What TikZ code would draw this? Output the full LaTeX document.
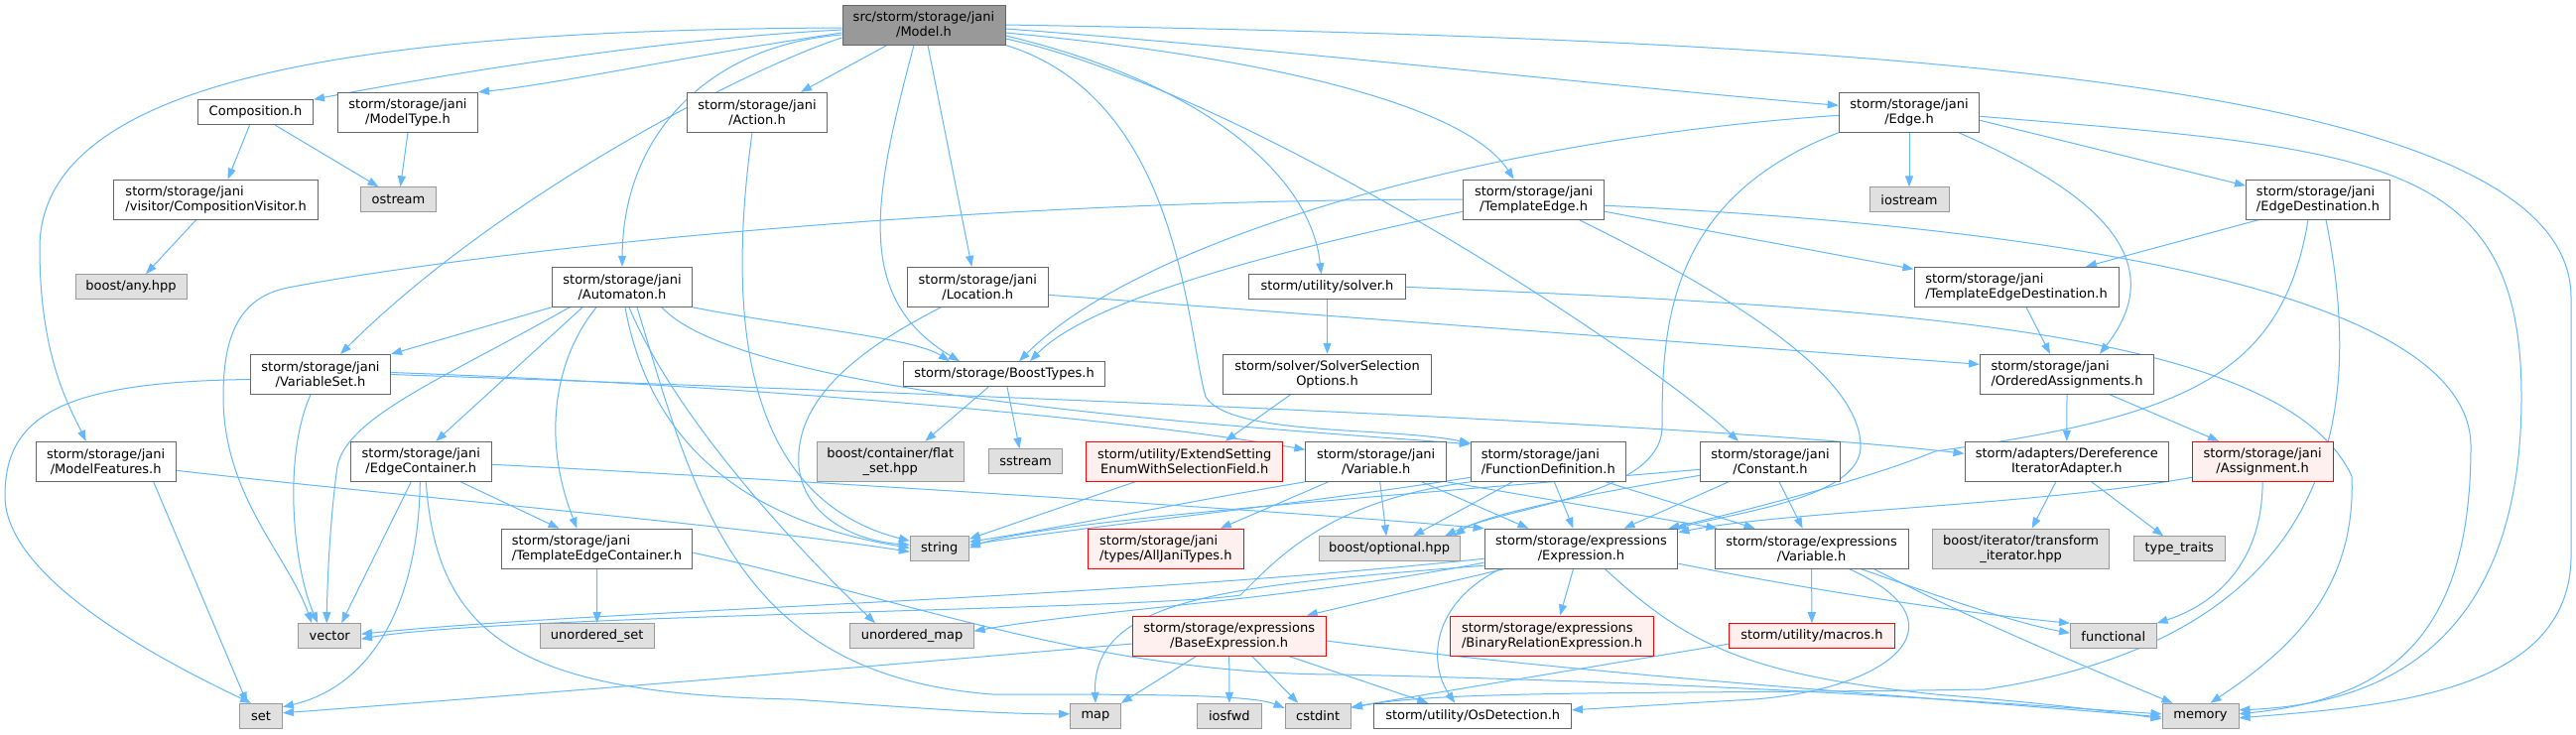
\documentclass[tikz,border=0pt]{standalone}
\usepackage{fontspec}
\setmainfont{DejaVu Sans}
\usetikzlibrary{arrows.meta,backgrounds}
\definecolor{edgec}{HTML}{63B8FF}
\definecolor{bordc}{HTML}{666666}
\definecolor{modelc}{HTML}{999999}
\definecolor{extf}{HTML}{E0E0E0}
\definecolor{extb}{HTML}{999999}
\definecolor{redf}{HTML}{FFF0F0}
\definecolor{redb}{HTML}{FF0000}
\begin{document}
\begin{tikzpicture}[x=1pt,y=-1pt,
  nb/.style={draw=bordc, fill=white, line width=1pt, inner sep=0pt, align=center, font=\fontsize{13}{15}\selectfont, minimum height=40pt},
  one/.style={minimum height=25pt},
  extbox/.style={fill=extf, draw=extb},
  redbox/.style={fill=redf, draw=redb},
  la/.style={align=left},
  edg/.style={draw=edgec, line width=1pt, -{Triangle[length=11pt,width=8pt]}},
]
\useasboundingbox (0,0) rectangle (2596,740);
% ---------- nodes ----------
\node[nb, fill=modelc, minimum width=164pt] (model) at (931,25) {src/storm/storage/jani\\/Model.h};
\node[nb, one, minimum width=116pt] (comp) at (257.5,113.3) {Composition.h};
\node[nb, minimum width=141pt] (mtype) at (411,113.3) {storm/storage/jani\\/ModelType.h};
\node[nb, minimum width=141pt] (action) at (763,113.3) {storm/storage/jani\\/Action.h};
\node[nb, minimum width=141.5pt] (edge) at (1924,113.3) {storm/storage/jani\\/Edge.h};
\node[nb, la, minimum width=206.5pt] (cvis) at (217.6,201.2) {storm/storage/jani\\/visitor/CompositionVisitor.h};
\node[nb, one, extbox, minimum width=76pt] (ostream) at (401.5,201.3) {ostream};
\node[nb, minimum width=141.4pt] (tedge) at (1545.6,201.2) {storm/storage/jani\\/TemplateEdge.h};
\node[nb, one, extbox, minimum width=80pt] (iostream) at (1924,201.3) {iostream};
\node[nb, la, minimum width=145pt] (edest) at (2336,201.2) {storm/storage/jani\\/EdgeDestination.h};
\node[nb, one, extbox, minimum width=112pt] (bany) at (132,289.2) {boost/any.hpp};
\node[nb, minimum width=141.4pt] (aut) at (627,289.3) {storm/storage/jani\\/Automaton.h};
\node[nb, minimum width=141.7pt] (loc) at (985.3,289.3) {storm/storage/jani\\/Location.h};
\node[nb, one, minimum width=158pt] (solver) at (1337.5,289.3) {storm/utility/solver.h};
\node[nb, la, minimum width=206pt] (ted) at (2032,289.3) {storm/storage/jani\\/TemplateEdgeDestination.h};
\node[nb, minimum width=141pt] (vset) at (323,377.5) {storm/storage/jani\\/VariableSet.h};
\node[nb, one, minimum width=203pt] (boost) at (1012,377.2) {storm/storage/BoostTypes.h};
\node[nb, minimum width=209.4pt] (ssel) at (1337.5,377.3) {storm/solver/SolverSelection\\Options.h};
\node[nb, la, minimum width=175pt] (oassign) at (2083,377.3) {storm/storage/jani\\/OrderedAssignments.h};
\node[nb, minimum width=141.3pt] (mfeat) at (106.7,465.3) {storm/storage/jani\\/ModelFeatures.h};
\node[nb, minimum width=141.4pt] (econt) at (424.3,465.3) {storm/storage/jani\\/EdgeContainer.h};
\node[nb, extbox, minimum width=148pt] (flatset) at (897.3,465.3) {boost/container/flat\\\_set.hpp};
\node[nb, one, extbox, minimum width=74.6pt] (sstream) at (1033.5,465.3) {sstream};
\node[nb, redbox, minimum width=197.7pt] (extsel) at (1193.7,465.3) {storm/utility/ExtendSetting\\EnumWithSelectionField.h};
\node[nb, minimum width=141.7pt] (jvar) at (1386.7,465.3) {storm/storage/jani\\/Variable.h};
\node[nb, la, minimum width=156pt] (fdef) at (1560.3,465.3) {storm/storage/jani\\/FunctionDefinition.h};
\node[nb, minimum width=141.4pt] (const) at (1784,465.3) {storm/storage/jani\\/Constant.h};
\node[nb, minimum width=205.6pt] (deref) at (2082.8,465.3) {storm/adapters/Dereference\\IteratorAdapter.h};
\node[nb, redbox, minimum width=141.8pt] (assign) at (2280.1,465.3) {storm/storage/jani\\/Assignment.h};
\node[nb, la, minimum width=192.4pt] (tec) at (601.5,553.2) {storm/storage/jani\\/TemplateEdgeContainer.h};
\node[nb, one, extbox, minimum width=59pt] (string) at (946.8,553.3) {string};
\node[nb, la, redbox, minimum width=156.7pt] (ajt) at (1174.8,553.2) {storm/storage/jani\\/types/AllJaniTypes.h};
\node[nb, one, extbox, minimum width=142pt] (optional) at (1400.1,553.3) {boost/optional.hpp};
\node[nb, minimum width=194.8pt] (expr) at (1593.5,553.2) {storm/storage/expressions\\/Expression.h};
\node[nb, minimum width=194.8pt] (evar) at (1825.6,553.2) {storm/storage/expressions\\/Variable.h};
\node[nb, extbox, minimum width=178.7pt] (titer) at (2036.6,553.2) {boost/iterator/transform\\\_iterator.hpp};
\node[nb, one, extbox, minimum width=91.6pt] (ttraits) at (2196.2,553.3) {type\_traits};
\node[nb, one, extbox, minimum width=62.5pt] (vector) at (332.2,641.2) {vector};
\node[nb, one, extbox, minimum width=114.8pt] (uset) at (601.7,641.2) {unordered\_set};
\node[nb, one, extbox, minimum width=124.3pt] (umap) at (919,641.2) {unordered\_map};
\node[nb, redbox, minimum width=195pt] (bexpr) at (1238.7,641) {storm/storage/expressions\\/BaseExpression.h};
\node[nb, la, redbox, minimum width=205.6pt] (brel) at (1564.1,641) {storm/storage/expressions\\/BinaryRelationExpression.h};
\node[nb, one, redbox, minimum width=167pt] (macros) at (1825.9,641.2) {storm/utility/macros.h};
\node[nb, one, extbox, minimum width=86.6pt] (func) at (2129.8,641.2) {functional};
\node[nb, one, extbox, minimum width=43pt] (set) at (263,721.8) {set};
\node[nb, one, extbox, minimum width=50.6pt] (map) at (1104,721.8) {map};
\node[nb, one, extbox, minimum width=64.3pt] (iosfwd) at (1238.9,721.8) {iosfwd};
\node[nb, one, extbox, minimum width=66.4pt] (cstdint) at (1328.2,721.8) {cstdint};
\node[nb, one, minimum width=198.5pt] (osd) at (1484.2,721.8) {storm/utility/OsDetection.h};
\node[nb, one, extbox, minimum width=77pt] (mem) at (2217.5,721.8) {memory};
% ---------- edges ----------
\begin{pgfonlayer}{background}
\fill[white] (0,0) rectangle (2596,740);
% Model.h
\draw[edg] ([yshift=-3pt]model.west) .. controls (400,30) and (40,70) .. (40,250) .. controls (40,360) and (70,410) .. ([xshift=-20pt]mfeat.north);
\draw[edg] ([yshift=-5pt]model.west) .. controls (650,40) and (420,80) .. (comp.north east);
\draw[edg] ([yshift=-8pt]model.west) .. controls (700,55) and (560,85) .. (mtype.north east);
\draw[edg] ([yshift=-10pt]model.west) .. controls (720,45) and (628,130) .. (aut.north);
\draw[edg] ([yshift=-13pt]model.west) .. controls (750,70) and (500,200) .. ([xshift=20pt]vset.north);
\draw[edg] ([xshift=-37pt]model.south) -- ([xshift=44pt]action.north);
\draw[edg] ([xshift=-10pt]model.south) .. controls (880,200) and (860,300) .. ([xshift=-45pt]boost.north);
\draw[edg] ([xshift=4pt]model.south) -- ([xshift=-6pt]loc.north);
\draw[edg] (model.south east) .. controls (1190,100) and (1195,330) .. (1215,400) .. controls (1240,440) and (1400,430) .. ([yshift=-2pt]fdef.north west);
\draw[edg] ([yshift=-14pt]model.east) .. controls (1250,90) and (1650,350) .. ([xshift=-32pt]const.north);
\draw[edg] ([yshift=-11pt]model.east) .. controls (1200,80) and (1320,170) .. ([xshift=-6pt]solver.north);
\draw[edg] ([yshift=-8pt]model.east) .. controls (1300,60) and (1480,110) .. ([xshift=-20pt]tedge.north);
\draw[edg] ([yshift=-4pt]model.east) .. controls (1300,50) and (1600,85) .. ([yshift=7pt]edge.west);
\draw[edg] (model.east) .. controls (1900,40) and (2591,80) .. (2591,300) -- (2591,560) .. controls (2591,700) and (2400,712) .. ([yshift=-2pt]mem.east);
% Composition, ModelType, Action
\draw[edg] ([xshift=-6pt]comp.south) -- ([xshift=12pt]cvis.north);
\draw[edg] ([xshift=20pt]comp.south) -- ([xshift=-20pt]ostream.north);
\draw[edg] (mtype.south) -- ([xshift=2pt]ostream.north);
\draw[edg] ([xshift=-20pt]cvis.south) -- ([xshift=15pt]bany.north);
\draw[edg] ([xshift=-5pt]action.south) .. controls (735,300) and (740,500) .. ([yshift=8pt]string.west);
% Edge.h
\draw[edg] (edge.south) -- (iostream.north);
\draw[edg] ([yshift=-8pt]edge.east) -- ([yshift=14pt]edest.west);
\draw[edg] ([xshift=50pt]edge.south) .. controls (2080,180) and (2200,250) .. ([xshift=33pt]oassign.north);
\draw[edg] ([yshift=-3pt]edge.west) .. controls (1500,140) and (1150,240) .. ([xshift=15pt]boost.north);
\draw[edg] (edge.south west) .. controls (1680,200) and (1675,330) .. (1675,430) .. controls (1675,500) and (1520,510) .. ([xshift=56pt]optional.north);
\draw[edg] ([yshift=-4pt]edge.east) .. controls (2400,150) and (2541,160) .. (2541,400) .. controls (2541,650) and (2400,710) .. ([yshift=6pt]mem.east);
% TemplateEdge.h
\draw[edg] ([yshift=-12pt]tedge.east) -- ([yshift=18pt]ted.west);
\draw[edg] ([yshift=-12pt]tedge.west) .. controls (1300,250) and (1100,300) .. ([xshift=26pt]boost.north);
\draw[edg] (tedge.west) .. controls (1000,200) and (500,250) .. (290,290) .. controls (240,300) and (225,340) .. (225,400) .. controls (225,500) and (290,560) .. ([xshift=-18pt]vector.north);
\draw[edg] ([yshift=-6pt]tedge.east) .. controls (2100,230) and (2490,300) .. (2490,450) .. controls (2490,650) and (2400,705) .. ([yshift=2pt]mem.east);
\draw[edg] ([xshift=46pt]tedge.south) .. controls (1750,300) and (1875,380) .. (1875,450) .. controls (1875,500) and (1760,515) .. ([xshift=-3pt]expr.north east);
% EdgeDestination.h
\draw[edg] ([xshift=-60pt]edest.south) -- ([xshift=70pt]ted.north);
\draw[edg] ([xshift=-10pt]edest.south) .. controls (2300,380) and (2200,420) .. (1950,455) .. controls (1890,480) and (1780,510) .. ([xshift=-10pt]expr.north east);
\draw[edg] ([xshift=8pt]edest.south) .. controls (2380,400) and (2370,640) .. (2000,695) .. controls (1700,700) and (1450,695) .. ([yshift=8pt]cstdint.east);
\draw[edg] ([xshift=10pt]ted.south) -- ([xshift=-17pt]oassign.north);
% Location, solver
\draw[edg] ([xshift=-37pt]loc.south) .. controls (870,350) and (800,400) .. (805,470) .. controls (810,520) and (860,545) .. ([yshift=4pt]string.west);
\draw[edg] ([yshift=-8pt]loc.east) -- ([yshift=10pt]oassign.west);
\draw[edg] (solver.south) -- (ssel.north);
\draw[edg] (solver.east) .. controls (1900,310) and (2300,330) .. (2370,480) .. controls (2375,600) and (2300,660) .. ([xshift=10pt]mem.north);
\draw[edg] ([xshift=-37pt]ssel.south) -- ([xshift=41pt]extsel.north);
\draw[edg] ([xshift=-50pt]extsel.south) -- ([yshift=10pt]string.east);
\draw[edg] ([xshift=-16pt]boost.south) -- ([xshift=35pt]flatset.north);
\draw[edg] ([xshift=3pt]boost.south) -- ([xshift=-6pt]sstream.north);
% OrderedAssignments etc.
\draw[edg] (oassign.south) -- (deref.north);
\draw[edg] ([xshift=43pt]oassign.south) -- ([xshift=-44pt]assign.north);
\draw[edg] ([xshift=-11pt]deref.south) -- ([xshift=11pt]titer.north);
\draw[edg] ([xshift=25pt]deref.south) -- ([xshift=-16pt]ttraits.north);
\draw[edg] ([yshift=-16pt]assign.west) .. controls (2050,510) and (1800,515) .. ([yshift=-4pt]expr.north east);
\draw[edg] (assign.south) .. controls (2280,570) and (2230,610) .. (func.north east);
% VariableSet
\draw[edg] ([yshift=-5pt]vset.west) .. controls (60,385) and (5,420) .. (5,500) .. controls (5,580) and (150,660) .. ([xshift=-10pt]set.north);
\draw[edg] ([xshift=-10pt]vset.south) .. controls (285,460) and (295,570) .. ([xshift=-12pt]vector.north);
\draw[edg] ([yshift=2pt]vset.east) .. controls (800,390) and (1150,425) .. ([yshift=12pt]jvar.west);
\draw[edg] (vset.east) .. controls (900,395) and (1700,425) .. ([yshift=8pt]deref.west);
% Automaton
\draw[edg] (aut.south west) -- (vset.north east);
\draw[edg] ([xshift=-53pt]aut.south) .. controls (450,380) and (350,420) .. (340,470) .. controls (333,520) and (330,580) .. ([xshift=-3pt]vector.north);
\draw[edg] ([xshift=-40pt]aut.south) -- ([xshift=15pt]econt.north);
\draw[edg] ([xshift=-26pt]aut.south) .. controls (560,360) and (545,440) .. ([xshift=-20pt]tec.north);
\draw[edg] ([xshift=3pt]aut.south) .. controls (650,420) and (720,520) .. ([yshift=1pt]string.west);
\draw[edg] ([xshift=7pt]aut.south) .. controls (680,420) and (800,550) .. ([xshift=-37pt]umap.north);
\draw[edg] ([xshift=15pt]aut.south) .. controls (700,500) and (740,680) .. (1000,700) .. controls (1150,700) and (1260,700) .. ([yshift=8pt]cstdint.west);
\draw[edg] (aut.south east) .. controls (800,330) and (920,340) .. ([xshift=-55pt]boost.north);
\draw[edg] ([xshift=40pt]aut.south) .. controls (750,400) and (1250,430) .. ([yshift=-3pt]fdef.north west);
% EdgeContainer, ModelFeatures, TemplateEdgeContainer
\draw[edg] ([xshift=-10pt]econt.south) -- ([xshift=12pt]vector.north);
\draw[edg] ([xshift=-1pt]econt.south) .. controls (422,600) and (380,690) .. ([yshift=-4pt]set.north east);
\draw[edg] ([xshift=5pt]econt.south) .. controls (440,640) and (520,700) .. (800,705) .. controls (900,712) and (1000,720) .. ([yshift=2pt]map.west);
\draw[edg] ([xshift=40pt]econt.south) -- ([xshift=-38pt]tec.north);
\draw[edg] ([yshift=-3pt]econt.east) .. controls (700,478) and (1300,515) .. (expr.north west);
\draw[edg] ([xshift=48pt]mfeat.south) -- ([xshift=-14pt]set.north);
\draw[edg] ([yshift=-9pt]mfeat.east) .. controls (400,500) and (750,530) .. ([yshift=-3pt]string.west);
\draw[edg] (tec.south) -- (uset.north);
\draw[edg] ([yshift=-4pt]tec.east) .. controls (900,600) and (1100,680) .. (1350,680) .. controls (1800,690) and (2050,712) .. ([yshift=2pt]mem.west);
% jani Variable
\draw[edg] ([xshift=4pt]jvar.south) -- ([xshift=-3pt]optional.north);
\draw[edg] ([xshift=-48pt]jvar.south) -- ([xshift=55pt]ajt.north);
\draw[edg] ([xshift=46pt]jvar.south) -- ([xshift=-53pt]expr.north);
\draw[edg] (jvar.south east) -- ([xshift=-95pt]evar.north);
\draw[edg] (jvar.south west) .. controls (1200,505) and (1080,530) .. ([yshift=7pt]string.east);
% FunctionDefinition
\draw[edg] ([xshift=-36pt]fdef.south) -- ([xshift=24pt]optional.north);
\draw[edg] ([xshift=6pt]fdef.south) -- ([xshift=-8pt]expr.north);
\draw[edg] ([xshift=58pt]fdef.south) -- ([xshift=-57pt]evar.north);
\draw[edg] ([yshift=-16pt]fdef.west) .. controls (1300,510) and (1100,530) .. ([yshift=4pt]string.east);
\draw[edg] (fdef.south west) .. controls (1340,505) and (1290,560) .. (1250,600) .. controls (1150,615) and (500,620) .. ([yshift=-3pt]vector.east);
% Constant
\draw[edg] ([yshift=-8pt]const.west) .. controls (1400,500) and (1050,525) .. ([yshift=1pt]string.east);
\draw[edg] ([yshift=-14pt]const.west) .. controls (1650,490) and (1500,515) .. ([xshift=-6pt]optional.north east);
\draw[edg] ([xshift=-42pt]const.south) -- ([xshift=43pt]expr.north);
\draw[edg] ([xshift=9pt]const.south) -- ([xshift=-9pt]evar.north);
% Expression
\draw[edg] ([xshift=-78pt]expr.south) -- ([xshift=78pt]bexpr.north);
\draw[edg] ([xshift=-8pt]expr.south) -- ([xshift=8pt]brel.north);
\draw[edg] ([xshift=-82pt]expr.south) .. controls (1440,610) and (1440,670) .. ([xshift=-18pt]osd.north);
\draw[edg] ([yshift=-15pt]expr.east) .. controls (1850,600) and (2000,620) .. (func.north west);
\draw[edg] ([xshift=24pt]expr.south) .. controls (1700,650) and (1760,680) .. (1950,700) .. controls (2050,708) and (2120,716) .. ([yshift=-3pt]mem.west);
\draw[edg] ([yshift=-10pt]expr.west) .. controls (1100,605) and (600,615) .. ([yshift=2pt]vector.east);
\draw[edg] ([yshift=-14pt]expr.west) .. controls (1300,605) and (1100,615) .. ([yshift=5pt]umap.east);
\draw[edg] ([yshift=-17pt]expr.west) .. controls (1250,590) and (1100,600) .. (map.north);
% expressions Variable
\draw[edg] (evar.south) -- (macros.north);
\draw[edg] ([xshift=50pt]evar.south) .. controls (1950,600) and (2030,628) .. ([yshift=3pt]func.west);
\draw[edg] ([xshift=63pt]evar.south) .. controls (1940,600) and (2000,630) .. ([xshift=-28pt]mem.north);
\draw[edg] ([xshift=38pt]evar.south) .. controls (1990,630) and (1900,700) .. (1750,706) -- ([yshift=6pt]osd.east);
% BaseExpression, macros
\draw[edg] ([yshift=-8pt]bexpr.west) .. controls (900,670) and (600,695) .. ([yshift=3pt]set.east);
\draw[edg] ([xshift=-33pt]bexpr.south) -- (map.north east);
\draw[edg] (bexpr.south) -- (iosfwd.north);
\draw[edg] ([xshift=23pt]bexpr.south) -- ([xshift=-20pt]cstdint.north);
\draw[edg] ([xshift=60pt]bexpr.south) -- ([xshift=-45pt]osd.north);
\draw[edg] ([yshift=-5pt]bexpr.east) .. controls (1600,680) and (1900,700) .. ([yshift=-1pt]mem.west);
\draw[edg] ([yshift=-8pt]macros.west) -- ([yshift=9pt]cstdint.east);
\end{pgfonlayer}
\end{tikzpicture}
\end{document}
